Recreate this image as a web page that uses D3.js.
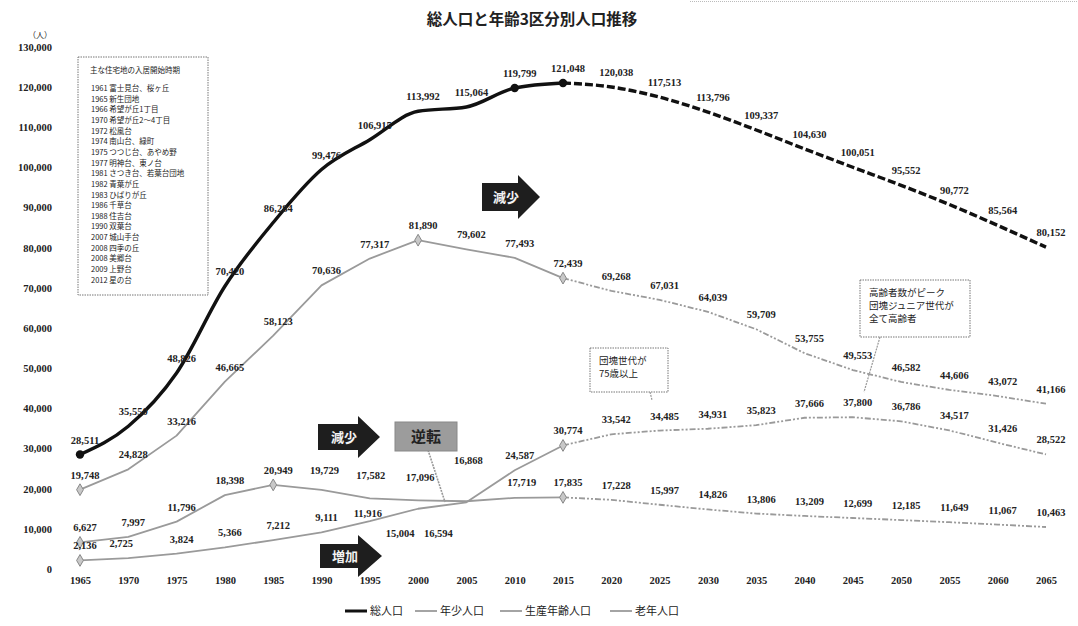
<!DOCTYPE html>
<html lang="ja">
<head>
<meta charset="utf-8">
<script src="https://cdn.jsdelivr.net/npm/d3@7"></script>
<style>
  html, body { margin: 0; padding: 0; background: #fff; }
  svg { display: block; }
  .num { font-family: "Liberation Serif", "DejaVu Serif", serif; font-size: 10.5px; font-weight: bold; fill: #222; }
  .jp { font-family: "Noto Sans CJK JP", sans-serif; fill: #222; }
</style>
</head>
<body>
<svg id="chart" width="1078" height="626"></svg>
<script>
// ---- data ----
const years = [1965, 1970, 1975, 1980, 1985, 1990, 1995, 2000, 2005, 2010, 2015,
               2020, 2025, 2030, 2035, 2040, 2045, 2050, 2055, 2060, 2065];
const totalPop = [28511, 35550, 48826, 70420, 86284, 99476, 106915, 113992, 115064, 119799, 121048,
                  120038, 117513, 113796, 109337, 104630, 100051, 95552, 90772, 85564, 80152];
const youthPop = [6627, 7997, 11796, 18398, 20949, 19729, 17582, 17096, 16868, 17719, 17835,
                  17228, 15997, 14826, 13806, 13209, 12699, 12185, 11649, 11067, 10463];
const workingPop = [19748, 24828, 33216, 46665, 58123, 70636, 77317, 81890, 79602, 77493, 72439,
                    69268, 67031, 64039, 59709, 53755, 49553, 46582, 44606, 43072, 41166];
const elderlyPop = [2136, 2725, 3824, 5366, 7212, 9111, 11916, 15004, 16594, 24587, 30774,
                    33542, 34485, 34931, 35823, 37666, 37800, 36786, 34517, 31426, 28522];
const seriesNames = ["総人口", "年少人口", "生産年齢人口", "老年人口"];
const yTicks = [0, 10000, 20000, 30000, 40000, 50000, 60000, 70000, 80000, 90000, 100000, 110000, 120000, 130000];
const lastActualYear = 2015;

// housing estates and the year moving-in began
const estateTitle = "主な住宅地の入居開始時期";
const estates = [
  "1961 富士見台、桜ヶ丘", "1965 新生団地", "1966 希望が丘1丁目", "1970 希望が丘2～4丁目",
  "1972 松風台", "1974 南山台、緑町", "1975 つつじ台、あやめ野", "1977 明神台、東ノ台",
  "1981 さつき台、若葉台団地", "1982 青葉が丘", "1983 ひばりが丘", "1986 千草台",
  "1988 住吉台", "1990 双葉台", "2007 城山手台", "2008 四季の丘", "2008 美郷台",
  "2009 上野台", "2012 星の台"
];

// ---- layout ----
const svg = d3.select("#chart");
const x = d3.scaleLinear().domain([1965, 2065]).range([80, 1046]);
const y = d3.scaleLinear().domain([0, 130000]).range([569, 47]);
const fmt = d3.format(",");

// title
svg.append("text").attr("class", "jp")
  .attr("x", 532).attr("y", 25).attr("text-anchor", "middle")
  .attr("font-size", 15.5).attr("font-weight", "bold")
  .text("総人口と年齢3区分別人口推移");

// faint scan edge at the top right
svg.append("line").attr("x1", 690).attr("x2", 1078).attr("y1", 1.5).attr("y2", 1.5)
  .attr("stroke", "#bbb").attr("stroke-dasharray", "1,1");

// y axis
const yAxis = svg.append("g").attr("transform", "translate(52,0)")
  .call(d3.axisLeft(y).tickValues(yTicks).tickFormat(fmt).tickSize(0).tickPadding(0));
yAxis.select(".domain").remove();
yAxis.selectAll("text").attr("class", "num").attr("font-size", null).attr("font-family", null);
svg.append("text").attr("class", "jp").attr("x", 40).attr("y", 38)
  .attr("text-anchor", "middle").attr("font-size", 8).text("（人）");

// x axis
const xAxis = svg.append("g").attr("transform", "translate(0,577)")
  .call(d3.axisBottom(x).tickValues(years).tickFormat(d3.format("d")).tickSize(0).tickPadding(0));
xAxis.select(".domain").remove();
xAxis.selectAll("text").attr("class", "num").attr("font-size", null).attr("font-family", null);

// ---- series ----
const series = [
  { key: "total", name: seriesNames[0], values: totalPop, color: "#111", width: 3.4,
    dash: "8,3", curve: d3.curveMonotoneX, markerYears: [1965, 2010, 2015], marker: "circle" },
  { key: "youth", name: seriesNames[1], values: youthPop, color: "#9a9a9a", width: 1.8,
    dash: "6,2,2,2,2,2", curve: d3.curveLinear, markerYears: [1965, 1985, 2015], marker: "diamond" },
  { key: "working", name: seriesNames[2], values: workingPop, color: "#9a9a9a", width: 1.8,
    dash: "6,2,2,2,2,2", curve: d3.curveLinear, markerYears: [1965, 2000, 2015], marker: "diamond" },
  { key: "elderly", name: seriesNames[3], values: elderlyPop, color: "#9a9a9a", width: 1.8,
    dash: "6,2,2,2,2,2", curve: d3.curveLinear, markerYears: [1965, 2015], marker: "diamond" }
];

// label nudges for crowded spots: [dx, dy] relative to the point
const defaultNudge = [5, -11];
const nudges = {
  "youth-1990": [3, -16], "youth-1995": [1, -19], "youth-2000": [2, -19],
  "youth-2005": [2, -37], "youth-2010": [7, -12],
  "elderly-1970": [-7, -11], "elderly-1995": [-2, -4],
  "elderly-2000": [-18, 28], "elderly-2005": [-28, 35]
};

series.forEach(s => {
  const pts = years.map((yr, i) => ({ year: yr, value: s.values[i] }));
  const actual = pts.filter(p => p.year <= lastActualYear);
  const future = pts.filter(p => p.year >= lastActualYear);
  const line = d3.line().x(p => x(p.year)).y(p => y(p.value)).curve(s.curve);
  const g = svg.append("g").attr("class", "series-" + s.key);
  g.append("path").attr("d", line(actual)).attr("fill", "none")
    .attr("stroke", s.color).attr("stroke-width", s.width).attr("stroke-linejoin", "round");
  g.append("path").attr("d", line(future)).attr("fill", "none")
    .attr("stroke", s.color).attr("stroke-width", s.width).attr("stroke-dasharray", s.dash);

  const marked = pts.filter(p => s.markerYears.includes(p.year));
  if (s.marker === "circle") {
    g.selectAll("circle").data(marked).join("circle")
      .attr("cx", p => x(p.year)).attr("cy", p => y(p.value)).attr("r", 4.2).attr("fill", s.color);
  } else {
    const sym = d3.symbol().type(d3.symbolDiamond).size(40);
    g.selectAll("path.mk").data(marked).join("path").attr("class", "mk")
      .attr("transform", p => `translate(${x(p.year)},${y(p.value)})`)
      .attr("d", sym).attr("fill", "#c8c8c8").attr("stroke", "#888").attr("stroke-width", 1);
  }

  g.selectAll("text").data(pts).join("text").attr("class", "num")
    .attr("text-anchor", "middle")
    .attr("x", p => x(p.year) + (nudges[s.key + "-" + p.year] || defaultNudge)[0])
    .attr("y", p => y(p.value) + (nudges[s.key + "-" + p.year] || defaultNudge)[1])
    .text(p => fmt(p.value));
});

// ---- housing estates box ----
const box = svg.append("g");
box.append("rect").attr("x", 78).attr("y", 57).attr("width", 130).attr("height", 238)
  .attr("fill", "#fff").attr("stroke", "#777").attr("stroke-width", 1).attr("stroke-dasharray", "1.5,1");
box.append("text").attr("class", "jp").attr("x", 90).attr("y", 73)
  .attr("font-size", 7.5).text(estateTitle);
box.selectAll("text.estate").data(estates).join("text").attr("class", "jp estate")
  .attr("x", 91).attr("y", (d, i) => 91 + i * 10.65).attr("font-size", 7.5).text(d => d);

// ---- block arrows ----
function blockArrow(x0, yc, bodyLen, headLen, bodyH, headH, label) {
  const g = svg.append("g");
  const pts = [
    [x0, yc - bodyH / 2], [x0 + bodyLen, yc - bodyH / 2], [x0 + bodyLen, yc - headH / 2],
    [x0 + bodyLen + headLen, yc], [x0 + bodyLen, yc + headH / 2], [x0 + bodyLen, yc + bodyH / 2],
    [x0, yc + bodyH / 2]
  ];
  g.append("polygon").attr("points", pts.map(p => p.join(",")).join(" ")).attr("fill", "#1e1e1e");
  g.append("text").attr("class", "jp").attr("x", x0 + bodyLen / 2 + 6).attr("y", yc + 5)
    .attr("text-anchor", "middle").attr("font-size", 13).attr("font-weight", "bold")
    .style("fill", "#f2f2f2").text(label);
}
blockArrow(482, 197, 36, 22, 28, 44, "減少");
blockArrow(318, 437, 40, 22, 26, 42, "減少");
blockArrow(320, 556, 38, 24, 24, 42, "増加");

// ---- reversal tag ----
svg.append("line").attr("x1", 428).attr("y1", 450).attr("x2", 445).attr("y2", 502)
  .attr("stroke", "#999").attr("stroke-width", 1.6).attr("stroke-dasharray", "2,1");
svg.append("rect").attr("x", 395).attr("y", 422).attr("width", 62).attr("height", 29)
  .attr("fill", "#9c9c9c").attr("stroke", "#888");
svg.append("text").attr("class", "jp").attr("x", 426).attr("y", 442)
  .attr("text-anchor", "middle").attr("font-size", 15).attr("font-weight", "bold").text("逆転");

// ---- callouts ----
function callout(bx, by, bw, bh, lines, lx1, ly1, lx2, ly2) {
  svg.append("line").attr("x1", lx1).attr("y1", ly1).attr("x2", lx2).attr("y2", ly2)
    .attr("stroke", "#999").attr("stroke-width", 1.2).attr("stroke-dasharray", "2,1");
  svg.append("rect").attr("x", bx).attr("y", by).attr("width", bw).attr("height", bh)
    .attr("fill", "#fff").attr("stroke", "#777").attr("stroke-dasharray", "1.5,1");
  svg.append("g").selectAll("text").data(lines).join("text").attr("class", "jp")
    .attr("x", bx + 9).attr("y", (d, i) => by + 16 + i * 13).attr("font-size", 9.5).text(d => d);
}
callout(590, 348, 78, 44, ["団塊世代が", "75歳以上"], 650, 392, 652, 400);
callout(860, 280, 110, 57, ["高齢者数がピーク", "団塊ジュニア世代が", "全て高齢者"], 880, 337, 864, 392);

// ---- legend ----
const legendX = [345, 415, 500, 610];
const legend = svg.append("g").attr("transform", "translate(0,611)");
series.forEach((s, i) => {
  legend.append("line").attr("x1", legendX[i]).attr("x2", legendX[i] + 22).attr("y1", 0).attr("y2", 0)
    .attr("stroke", s.color).attr("stroke-width", s.key === "total" ? 3 : 1.8);
  legend.append("text").attr("class", "jp").attr("x", legendX[i] + 25).attr("y", 4)
    .attr("font-size", 11).text(s.name);
});
</script>
</body>
</html>
